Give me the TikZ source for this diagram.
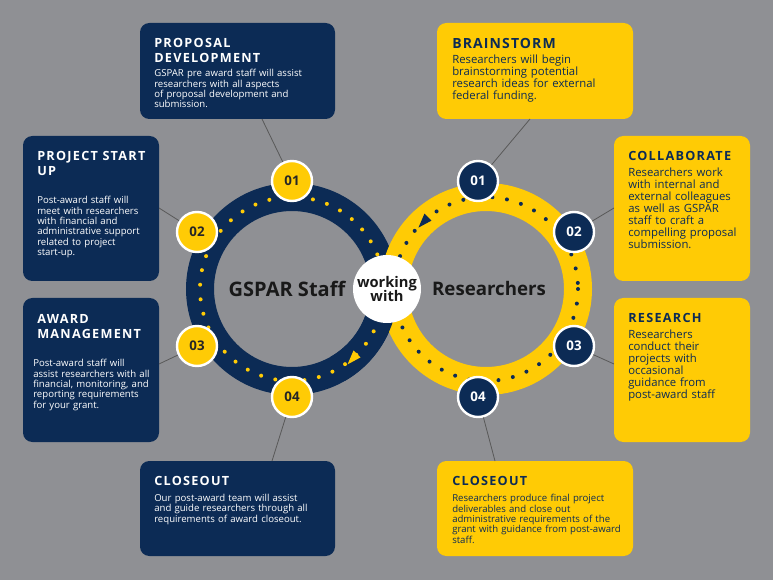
\documentclass[tikz,border=0pt]{standalone}
\usepackage{fontspec}
\setmainfont{Open Sans}
\usetikzlibrary{arrows.meta}
\definecolor{navy}{HTML}{0C2B55}
\definecolor{gold}{HTML}{FFCB05}
\definecolor{bg}{HTML}{8F9094}
\tikzset{
 nbox/.style={fill=navy,rounded corners=7pt,draw=none},
 ybox/.style={fill=gold,rounded corners=7pt,draw=none},
 ttl/.style={anchor=north west,inner sep=0pt,font=\bfseries\fontsize{9.5}{11}\selectfont\addfontfeatures{LetterSpace=10},align=left},
 nohy/.style={execute at begin node={\hyphenpenalty=10000\exhyphenpenalty=10000\relax}},
 bdy/.style={anchor=north west,inner sep=0pt,font=\fontsize{7.2}{7.8}\selectfont,align=left,nohy},
 ybdy/.style={anchor=north west,inner sep=0pt,text=navy,font=\fontsize{8.5}{9}\selectfont,align=left,nohy},
 badgeY/.style={circle,fill=gold,draw=white,line width=1.8pt,minimum size=40*0.75pt,inner sep=0pt,font=\bfseries\fontsize{10}{10}\selectfont,text=black!85},
 badgeN/.style={circle,fill=navy,draw=white,line width=1.8pt,minimum size=40*0.75pt,inner sep=0pt,font=\bfseries\fontsize{10}{10}\selectfont,text=white},
 conn/.style={draw=black!65,line width=0.6pt},
 ringlbl/.style={font=\bfseries\fontsize{14}{14}\selectfont,text=black!90},
}
\begin{document}
\begin{tikzpicture}[x=0.75pt,y=-0.75pt]
\fill[bg] (0,0) rectangle (773,580);
\useasboundingbox (0,0) rectangle (773,580);
% boxes
\fill[nbox] (140,23) rectangle (335,119);
\fill[nbox] (23,136) rectangle (159,281);
\fill[nbox] (23,298) rectangle (159,442);
\fill[nbox] (140,461) rectangle (335,556);
\fill[ybox] (437,23) rectangle (633,119);
\fill[ybox] (614,136) rectangle (750,281);
\fill[ybox] (614,298) rectangle (750,442);
\fill[ybox] (437,461) rectangle (633,556);
% texts
\node[ttl,text=white] (t1) at (154,38) {PROPOSAL\\DEVELOPMENT};
\node[bdy,text=white,text width=172*0.75pt] (b1) at (154,69) {GSPAR pre award staff will assist researchers with all aspects of proposal development and submission.};
\node[ttl,text=white] (t2) at (37,151) {PROJECT START\\UP};
\node[bdy,text=white,text width=112*0.75pt] (b2) at (37,196) {Post-award staff will meet with researchers with financial and administrative support related to project start-up.};
\node[ttl,text=white] (t3) at (37,314) {AWARD\\MANAGEMENT};
\node[bdy,text=white,text width=118*0.75pt] (b3) at (33,359) {Post-award staff will assist researchers with all financial, monitoring, and reporting requirements for your grant.};
\node[ttl,text=white] (t4) at (154,476) {CLOSEOUT};
\node[bdy,text=white,text width=172*0.75pt] (b4) at (154,494) {Our post-award team will assist and guide researchers through all requirements of award closeout.};
\node[ttl,text=navy,font=\bfseries\fontsize{10.5}{12}\selectfont\addfontfeatures{LetterSpace=8}] (t5) at (452,38) {BRAINSTORM};
\node[ybdy,text width=160*0.75pt] (b5) at (452,55) {Researchers will begin brainstorming potential research ideas for external federal funding.};
\node[ttl,text=navy] (t6) at (628,151) {COLLABORATE};
\node[ybdy,text width=110*0.75pt] (b6) at (628,168) {Researchers work with internal and external colleagues as well as GSPAR staff to craft a compelling proposal submission.};
\node[ttl,text=navy] (t7) at (628,313) {RESEARCH};
\node[ybdy,text width=100*0.75pt] (b7) at (628,330) {Researchers conduct their projects with occasional guidance from post-award staff};
\node[ttl,text=navy] (t8) at (452,476) {CLOSEOUT};
\node[bdy,text=navy,text width=170*0.75pt] (b8) at (452,494) {Researchers produce final project deliverables and close out administrative requirements of the grant with guidance from post-award staff.};
% connector anchors
\coordinate (c1) at (262,119); \coordinate (c2) at (159,208);
\coordinate (c3) at (159,364); \coordinate (c4) at (272,461);
\coordinate (c5) at (530,119); \coordinate (c6) at (614,208);
\coordinate (c7) at (614,364); \coordinate (c8) at (495,461);
\coordinate (L) at (292,289); \coordinate (R) at (486,289);
% rings
\draw[navy,line width=28*0.75pt] (L) circle (92);
\draw[gold,line width=28*0.75pt] (R) circle (92);
\draw[navy,line width=28*0.75pt] ([shift={(15:92)}]L) arc[start angle=15,end angle=60,radius=92];
% dotted paths
\draw[gold,line width=3pt,dash pattern=on 0pt off 11pt,line cap=round] (L) circle (92);
\draw[navy,line width=3pt,dash pattern=on 0pt off 11pt,line cap=round] (R) circle (92);
\fill[gold] ([shift={(48:92)}]L) +(-6,7) -- +(7,0) -- +(0,-7) -- cycle;
\fill[navy] ([shift={(228:92)}]R) +(-6,7) -- +(7,0) -- +(0,-7) -- cycle;
% badges
\node[badgeY] (l1) at (292,181) {01};
\node[badgeY] (l2) at (197,232) {02};
\node[badgeY] (l3) at (197,346) {03};
\node[badgeY] (l4) at (292,397) {04};
\node[badgeN] (r1) at (478,181) {01};
\node[badgeN] (r2) at (574,232) {02};
\node[badgeN] (r3) at (574,346) {03};
\node[badgeN] (r4) at (478,397) {04};
\draw[conn] (c1) -- (l1); \draw[conn] (c2) -- (l2);
\draw[conn] (c3) -- (l3); \draw[conn] (c4) -- (l4);
\draw[conn] (c5) -- (r1); \draw[conn] (c6) -- (r2);
\draw[conn] (c7) -- (r3); \draw[conn] (c8) -- (r4);
\node[ringlbl,font=\bfseries\fontsize{15}{15}\selectfont] (gs) at (287,289) {GSPAR Staff};
\node[ringlbl] (rs) at (489,289) {Researchers};
\node[circle,fill=white,minimum size=68*0.75pt,inner sep=0pt,align=center,font=\bfseries\fontsize{11}{11}\selectfont,text=black!90] (w) at (387,289) {working\\with};
\end{tikzpicture}
\end{document}
